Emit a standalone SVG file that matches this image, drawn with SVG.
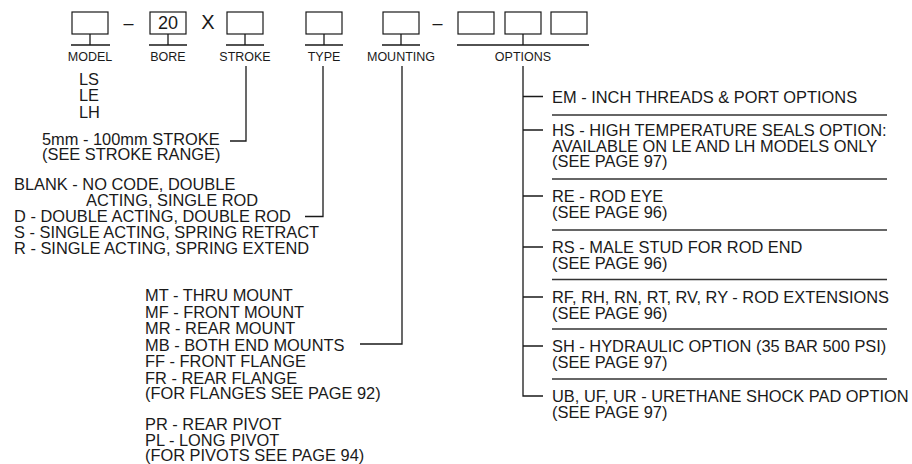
<svg xmlns="http://www.w3.org/2000/svg" width="912" height="464" viewBox="0 0 912 464">
<style>
text{font-family:"Liberation Sans",Arial,sans-serif;fill:#1a1a1a}
.t{font-size:16.4px}
.lb{font-size:12.5px;text-anchor:middle}
.c{font-size:18px;text-anchor:middle}
.box{fill:#fff;stroke:#1a1a1a;stroke-width:1.2}
.ln{fill:none;stroke:#1a1a1a;stroke-width:1.3}
.sep{fill:none;stroke:#333;stroke-width:1.5}
</style>
<rect width="912" height="464" fill="#fff"/>
<g id="model">
<rect class="box" x="72" y="12" width="36" height="22"/>
<path class="ln" d="M90 34V45M71 45H110"/>
<text class="lb" x="90" y="61">MODEL</text>
<text class="t" x="79" y="84.5">LS</text>
<text class="t" x="79" y="101">LE</text>
<text class="t" x="79" y="117.5">LH</text>
</g>
<text class="c" x="128.5" y="28.5">–</text>
<g id="bore">
<rect class="box" x="150" y="12" width="36" height="22"/>
<text class="c" x="168" y="29">20</text>
<path class="ln" d="M168 34V45M149 45H187"/>
<text class="lb" x="168" y="61">BORE</text>
</g>
<text x="208" y="28.5" style="font-size:20px;text-anchor:middle">X</text>
<g id="stroke">
<rect class="box" x="227" y="12" width="36" height="22"/>
<path class="ln" d="M245 34V45M226 45H264"/>
<text class="lb" x="245" y="61">STROKE</text>
<text class="t" x="42" y="145">5mm - 100mm STROKE</text>
<text class="t" x="42" y="160">(SEE STROKE RANGE)</text>
</g>
<g id="type">
<rect class="box" x="306" y="12" width="36" height="22"/>
<path class="ln" d="M324 34V45M305 45H343"/>
<text class="lb" x="324" y="61">TYPE</text>
<text class="t" x="14" y="190">BLANK - NO CODE, DOUBLE</text>
<text class="t" x="86" y="205.5">ACTING, SINGLE ROD</text>
<text class="t" x="14" y="221.5">D - DOUBLE ACTING, DOUBLE ROD</text>
<text class="t" x="14" y="237.5">S - SINGLE ACTING, SPRING RETRACT</text>
<text class="t" x="14" y="253.5">R - SINGLE ACTING, SPRING EXTEND</text>
</g>
<g id="mounting">
<rect class="box" x="383" y="12" width="36" height="22"/>
<path class="ln" d="M401 34V45M382 45H420"/>
<text class="lb" x="401" y="61">MOUNTING</text>
<text class="t" x="145" y="301">MT - THRU MOUNT</text>
<text class="t" x="145" y="317.5">MF - FRONT MOUNT</text>
<text class="t" x="145" y="334">MR - REAR MOUNT</text>
<text class="t" x="145" y="350.5">MB - BOTH END MOUNTS</text>
<text class="t" x="145" y="367">FF - FRONT FLANGE</text>
<text class="t" x="145" y="383.5">FR - REAR FLANGE</text>
<text class="t" x="145" y="399">(FOR FLANGES SEE PAGE 92)</text>
<text class="t" x="145" y="429.5">PR - REAR PIVOT</text>
<text class="t" x="145" y="445.5">PL - LONG PIVOT</text>
<text class="t" x="145" y="461">(FOR PIVOTS SEE PAGE 94)</text>
</g>
<text class="c" x="437.5" y="28.5">–</text>
<g id="options">
<rect class="box" x="458" y="12" width="36" height="22"/>
<rect class="box" x="505" y="12" width="36" height="22"/>
<rect class="box" x="551" y="12" width="36" height="22"/>
<path class="ln" d="M523 34V45M457 45H589"/>
<text class="lb" x="523" y="61">OPTIONS</text>
<text class="t" x="552" y="102.5">EM - INCH THREADS &amp; PORT OPTIONS</text>
<path class="sep" d="M552 115H887"/>
<text class="t" x="552" y="136">HS - HIGH TEMPERATURE SEALS OPTION:</text>
<text class="t" x="552" y="151.5">AVAILABLE ON LE AND LH MODELS ONLY</text>
<text class="t" x="552" y="167">(SEE PAGE 97)</text>
<path class="sep" d="M552 179H887"/>
<text class="t" x="552" y="202">RE - ROD EYE</text>
<text class="t" x="552" y="217.5">(SEE PAGE 96)</text>
<path class="sep" d="M552 230H887"/>
<text class="t" x="552" y="253">RS - MALE STUD FOR ROD END</text>
<text class="t" x="552" y="268.5">(SEE PAGE 96)</text>
<path class="sep" d="M552 279.5H887"/>
<text class="t" x="552" y="303">RF, RH, RN, RT, RV, RY - ROD EXTENSIONS</text>
<text class="t" x="552" y="318.5">(SEE PAGE 96)</text>
<path class="sep" d="M552 329H887"/>
<text class="t" x="552" y="352">SH - HYDRAULIC OPTION (35 BAR 500 PSI)</text>
<text class="t" x="552" y="367.5">(SEE PAGE 97)</text>
<path class="sep" d="M552 379H887"/>
<text class="t" x="552" y="402">UB, UF, UR - URETHANE SHOCK PAD OPTION</text>
<text class="t" x="552" y="417.5">(SEE PAGE 97)</text>
</g>
<g id="connectors">
<path class="ln" d="M246 66V141H230"/>
<path class="ln" d="M323 66V216.5H305"/>
<path class="ln" d="M402 66V344H360"/>
<path class="ln" d="M523 66V396H543M523 96.5H543M523 130H543M523 196H543M523 247H543M523 297H543M523 346H543"/>
</g>
</svg>
